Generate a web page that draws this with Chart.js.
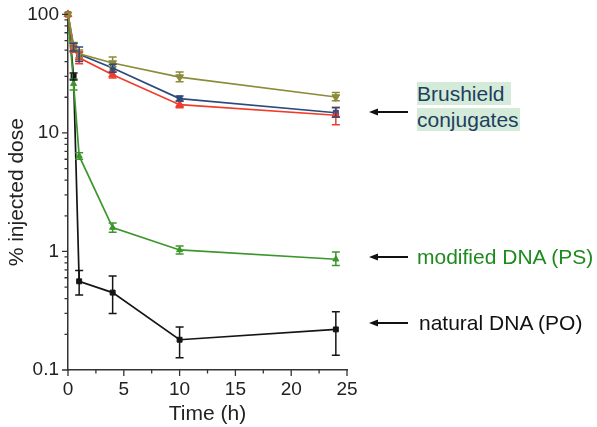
<!DOCTYPE html>
<html>
<head>
<meta charset="utf-8">
<script src="https://cdn.jsdelivr.net/npm/chart.js@4.4.1/dist/chart.umd.min.js"></script>
<style>
  html, body { margin: 0; padding: 0; background: #fff; }
  #wrap { position: relative; width: 597px; height: 427px; font-family: "Liberation Sans", Arial, sans-serif; }
  #wrap canvas { position: absolute; left: 0; top: 0; }
  .note { position: absolute; font-size: 21px; line-height: 24px; white-space: nowrap; }
  .hl { background: #d5ebd9; color: #1d3f5e; padding: 0 1px 0 0; }
  svg.arrows { position: absolute; left: 0; top: 0; }
</style>
</head>
<body>
<div id="wrap">
  <canvas id="c" width="597" height="427"></canvas>
  <svg class="arrows" width="597" height="427">
    <g stroke="#111" stroke-width="2">
      <line x1="376" y1="112" x2="408" y2="112"/>
      <line x1="376" y1="257" x2="408" y2="257"/>
      <line x1="376" y1="323" x2="408" y2="323"/>
    </g>
    <g fill="#111">
      <polygon points="369,112 378,108.5 378,115.5"/>
      <polygon points="369,257 378,253.5 378,260.5"/>
      <polygon points="369,323 378,319.5 378,326.5"/>
    </g>
  </svg>
  <div class="note" style="left:417px; top:82px;"><span class="hl">Brushield&nbsp;</span></div>
  <div class="note" style="left:417px; top:108px;"><span class="hl">conjugates</span></div>
  <div class="note" style="left:417px; top:245px; color:#1e8a1e;">modified DNA (PS)</div>
  <div class="note" style="left:419px; top:311px; color:#111;">natural DNA (PO)</div>
</div>
<script>
// ---- data ----
const times = [0, 0.5, 1, 4, 10, 24];

const naturalDNA   = [100, 30, 0.56, 0.45, 0.18, 0.22];
const naturalLo    = [100, 28, 0.43, 0.30, 0.127, 0.133];
const naturalHi    = [100, 32, 0.69, 0.62, 0.23, 0.31];

const modifiedDNA  = [100, 26, 6.4, 1.59, 1.03, 0.86];
const modifiedLo   = [100, 23, 6.0, 1.45, 0.95, 0.76];
const modifiedHi   = [100, 28.5, 6.8, 1.74, 1.11, 0.99];

const brushBlue    = [100, 53, 46, 35.3, 19.5, 14.8];
const brushBlueLo  = [100, 49, 40, 32.5, 18.6, 13.6];
const brushBlueHi  = [100, 57, 53, 38, 20.5, 16.3];

const brushRed     = [100, 51, 43, 31, 17.3, 14.1];
const brushRedLo   = [100, 48, 38.4, 29, 16.3, 11.7];
const brushRedHi   = [100, 54, 48, 33, 18.5, 16.5];

const brushOlive   = [100, 55, 46.6, 38.9, 29.6, 20.1];
const brushOliveLo = [100, 52, 43, 36.3, 27, 18.7];
const brushOliveHi = [100, 58, 50, 43.8, 32.6, 21.9];

const yMajorTicks = [0.1, 1, 10, 100];
const xMajorTicks = [0, 5, 10, 15, 20, 25];

function pts(vals) { return times.map((t, i) => ({ x: t, y: vals[i] })); }

const series = [
  { label: 'Brushield olive', data: brushOlive, lo: brushOliveLo, hi: brushOliveHi, color: '#8b8b3a', style: 'triangle', rot: 180, r: 4.5 },
  { label: 'Brushield red',   data: brushRed,   lo: brushRedLo,   hi: brushRedHi,   color: '#f03c2c', style: 'triangle', rot: 0, r: 4.5 },
  { label: 'Brushield navy',  data: brushBlue,  lo: brushBlueLo,  hi: brushBlueHi,  color: '#2c4a7c', style: 'rect', rot: 0, r: 3.5 },
  { label: 'modified DNA (PS)', data: modifiedDNA, lo: modifiedLo, hi: modifiedHi, color: '#3c962c', style: 'triangle', rot: 0, r: 3.5 },
  { label: 'natural DNA (PO)',  data: naturalDNA,  lo: naturalLo,  hi: naturalHi,  color: '#151515', style: 'rect', rot: 0, r: 3.5 }
];

const errorBars = {
  id: 'errorBars',
  afterDatasetsDraw(chart) {
    const ctx = chart.ctx, xs = chart.scales.x, ys = chart.scales.y;
    chart.data.datasets.forEach((ds, di) => {
      const s = series[di];
      ctx.save();
      ctx.strokeStyle = s.color;
      ctx.lineWidth = 1.5;
      times.forEach((t, i) => {
        if (s.lo[i] === s.hi[i]) return;
        const x = xs.getPixelForValue(t);
        const y1 = ys.getPixelForValue(s.lo[i]);
        const y2 = ys.getPixelForValue(s.hi[i]);
        ctx.beginPath();
        ctx.moveTo(x, y1); ctx.lineTo(x, y2);
        ctx.moveTo(x - 4, y1); ctx.lineTo(x + 4, y1);
        ctx.moveTo(x - 4, y2); ctx.lineTo(x + 4, y2);
        ctx.stroke();
      });
      ctx.restore();
    });
  }
};

const tickMarks = {
  id: 'tickMarks',
  afterDraw(chart) {
    const ctx = chart.ctx, xs = chart.scales.x, ys = chart.scales.y;
    ctx.save();
    ctx.strokeStyle = '#333';
    ctx.lineWidth = 1.3;
    ctx.beginPath();
    xs.ticks.forEach(tk => {
      const px = xs.getPixelForValue(tk.value);
      const major = xMajorTicks.some(v => Math.abs(v - tk.value) < 1e-9);
      ctx.moveTo(px, xs.top); ctx.lineTo(px, xs.top + (major ? 6 : 3.5));
    });
    ys.ticks.forEach(tk => {
      const py = ys.getPixelForValue(tk.value);
      const major = yMajorTicks.some(v => Math.abs(v - tk.value) / v < 1e-6);
      ctx.moveTo(ys.right, py); ctx.lineTo(ys.right - (major ? 6 : 3.5), py);
    });
    ctx.stroke();
    ctx.restore();
  }
};

const font = { family: '"Liberation Sans", Arial, sans-serif' };

new Chart(document.getElementById('c'), {
  type: 'line',
  data: {
    datasets: series.map(s => ({
      label: s.label,
      data: pts(s.data),
      borderColor: s.color,
      backgroundColor: s.color,
      borderWidth: 1.7,
      pointStyle: s.style,
      pointRotation: s.rot,
      pointRadius: s.r,
      pointBorderWidth: 1,
      tension: 0,
      clip: false
    }))
  },
  options: {
    responsive: false,
    animation: false,
    events: [],
    layout: { padding: { left: 0, top: 14, right: 250, bottom: 0 } },
    plugins: { legend: { display: false }, tooltip: { enabled: false } },
    scales: {
      x: {
        type: 'linear',
        min: 0, max: 25,
        afterFit(scale) { scale.height = 57; },
        afterBuildTicks(scale) {
          const arr = [];
          for (let v = 0; v <= 25; v += 2.5) arr.push({ value: v });
          scale.ticks = arr;
        },
        ticks: {
          autoSkip: false,
          maxRotation: 0,
          padding: 2,
          color: '#222',
          font: { ...font, size: 19 },
          callback: v => xMajorTicks.includes(v) ? String(v) : ''
        },
        grid: { display: false, drawTicks: true, tickLength: 6 },
        border: { display: true, color: '#333', width: 1.5 },
        title: { display: true, text: 'Time (h)', color: '#222', font: { ...font, size: 21 }, padding: { top: 3, bottom: 0 } }
      },
      y: {
        type: 'logarithmic',
        min: 0.1, max: 100,
        afterFit(scale) { scale.width = 68; },
        afterBuildTicks(scale) {
          const arr = [];
          for (let e = -1; e <= 1; e++) {
            for (let m = 1; m <= 9; m++) arr.push({ value: m * Math.pow(10, e) });
          }
          arr.push({ value: 100 });
          scale.ticks = arr;
        },
        ticks: {
          autoSkip: false,
          padding: 3,
          color: '#222',
          font: { ...font, size: 19 },
          callback: v => {
            const hit = yMajorTicks.find(m => Math.abs(m - v) / m < 1e-6);
            return hit !== undefined ? String(hit) : '';
          }
        },
        grid: { display: false, drawTicks: true, tickLength: 6 },
        border: { display: true, color: '#333', width: 1.5 },
        title: { display: true, text: '% injected dose', color: '#222', font: { ...font, size: 21 }, padding: { top: 5, bottom: 0 } }
      }
    }
  },
  plugins: [errorBars, tickMarks]
});
</script>
</body>
</html>
